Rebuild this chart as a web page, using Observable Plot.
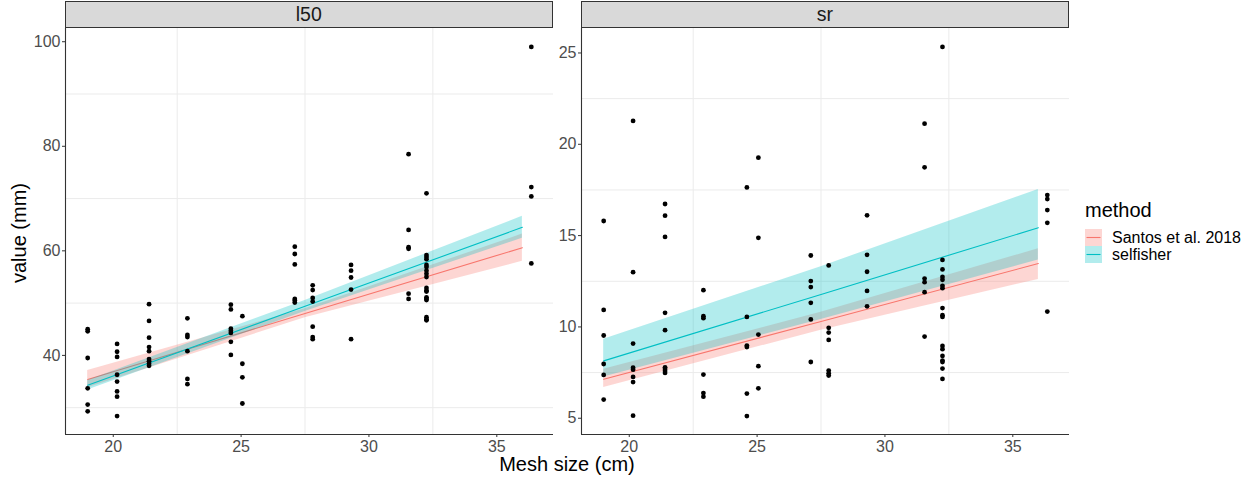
<!DOCTYPE html>
<html><head><meta charset="utf-8">
<script src="https://cdn.jsdelivr.net/npm/d3@7"></script>
<script src="https://cdn.jsdelivr.net/npm/@observablehq/plot@0.6"></script>
<style>
body{margin:0;background:#fff;font-family:"Liberation Sans",Arial,Helvetica,sans-serif;}
#root{position:relative;width:1255px;height:480px;overflow:hidden;background:#fff;}
.strip{position:absolute;top:1px;height:27px;box-sizing:border-box;background:#d9d9d9;border:1px solid #333;display:flex;align-items:center;justify-content:center;font-size:19.5px;color:#1a1a1a;}
.panel{position:absolute;top:28px;}
.title{position:absolute;font-size:20px;line-height:20px;color:#000;white-space:nowrap;}
.lab{position:absolute;font-size:16px;line-height:16px;color:#000;white-space:nowrap;}
</style></head>
<body><div id="root"></div>
<script>
// ---- data ----
const panels = ["l50", "sr"];
const methods = ["Santos et al. 2018", "selfisher"];
const methodColors = ["#F8766D", "#00BFC4"];
const meshSizes = [19.0, 20.15, 21.4, 22.9, 24.6, 25.05, 27.1, 27.8, 29.3, 31.55, 32.25, 36.35];
const l50Values = [
  [45.0, 44.6, 39.5, 33.7, 30.6, 29.3],
  [42.2, 40.7, 39.7, 36.3, 35.0, 33.1, 32.1, 28.4],
  [49.8, 46.6, 43.4, 41.6, 40.8, 39.3, 38.9, 38.4, 38.0],
  [47.1, 43.9, 43.5, 40.8, 35.5, 34.5],
  [49.7, 48.8, 45.1, 44.7, 44.3, 42.6, 40.1],
  [47.5, 38.4, 35.8, 30.8],
  [60.8, 59.4, 57.4, 50.8, 50.5, 50.1],
  [53.4, 52.5, 51.0, 50.3, 45.5, 43.5, 43.1],
  [57.3, 56.2, 54.9, 52.6, 43.1],
  [78.5, 64.0, 60.7, 60.4, 51.8, 50.8],
  [71.0, 59.2, 58.8, 58.4, 57.3, 56.9, 56.2, 55.6, 55.0, 52.9, 52.4, 52.2, 51.1, 50.8, 50.6, 47.3, 46.9, 46.7],
  [99.0, 72.2, 70.4, 57.6]
];
const srValues = [
  [15.8, 10.93, 9.53, 7.97, 7.37, 6.02],
  [21.28, 13.0, 9.09, 7.77, 7.66, 7.26, 6.98, 5.14],
  [16.73, 16.09, 14.93, 10.77, 9.82, 7.79, 7.70, 7.59, 7.48],
  [12.01, 10.59, 10.48, 7.39, 6.38, 6.18],
  [17.64, 10.55, 8.98, 8.90, 6.35, 5.12],
  [19.27, 14.88, 9.58, 7.85, 6.64],
  [13.91, 12.51, 12.18, 11.32, 10.41, 8.08],
  [13.37, 9.95, 9.69, 9.29, 7.61, 7.46, 7.34],
  [16.11, 13.95, 13.02, 11.97, 11.13],
  [21.13, 18.74, 12.65, 12.45, 11.90, 9.47],
  [25.33, 13.67, 13.15, 12.74, 12.58, 12.25, 12.12, 11.03, 10.64, 10.55, 8.96, 8.78, 8.41, 8.16, 8.08, 7.72, 7.15],
  [17.22, 17.0, 16.4, 15.70, 10.84]
];
// fitted lines and confidence bands, read at three mesh sizes
const fitX = [19, 27.5, 36];
const l50SantosFit = [35.4, 48.0, 60.6];
const l50SantosLo  = [33.8, 47.2, 58.0];
const l50SantosHi  = [37.1, 48.9, 63.2];
const l50SelfFit = [34.3, 49.4, 64.5];
const l50SelfLo  = [33.4, 48.4, 62.4];
const l50SelfHi  = [35.2, 50.5, 66.6];
const srSantosFit = [7.13, 10.3, 13.47];
const srSantosLo  = [6.68, 9.82, 12.6];
const srSantosHi  = [7.68, 10.8, 14.28];
const srSelfFit = [8.14, 11.78, 15.43];
const srSelfLo  = [7.26, 10.4, 13.66];
const srSelfHi  = [9.33, 13.3, 17.53];
// ticks
const xMajor = [20, 25, 30, 35];
const xMinor = [22.5, 27.5, 32.5];
const l50Major = [40, 60, 80, 100];
const l50Minor = [30, 50, 70, 90];
const srMajor = [5, 10, 15, 20, 25];
const srMinor = [7.5, 12.5, 17.5, 22.5];

// ---- build tables ----
function pts(values) {
  const out = [];
  values.forEach((arr, i) => arr.forEach(v => out.push({x: meshSizes[i], y: v})));
  return out;
}
function fitRows(fit, lo, hi) {
  return fitX.map((x, i) => ({x, fit: fit[i], lo: lo[i], hi: hi[i]}));
}
function expand(ext) { const d = (ext[1] - ext[0]) * 0.05; return [ext[0] - d, ext[1] + d]; }

const panelDefs = [
  {name: panels[0], points: pts(l50Values),
   fits: [fitRows(l50SantosFit, l50SantosLo, l50SantosHi), fitRows(l50SelfFit, l50SelfLo, l50SelfHi)],
   major: l50Major, minor: l50Minor, left: 0, width: 560, ml: 65, mr: 7},
  {name: panels[1], points: pts(srValues),
   fits: [fitRows(srSantosFit, srSantosLo, srSantosHi), fitRows(srSelfFit, srSelfLo, srSelfHi)],
   major: srMajor, minor: srMinor, left: 550, width: 520, ml: 31, mr: 1}
];

const allX = meshSizes.concat(fitX);
const xDomain = expand(d3.extent(allX));
const root = document.getElementById("root");
const font = '"Liberation Sans", Arial, Helvetica, sans-serif';

panelDefs.forEach(p => {
  const ys = p.points.map(d => d.y).concat(...p.fits.map(f => f.flatMap(r => [r.lo, r.hi])));
  const yDomain = expand(d3.extent(ys));
  const marks = [
    Plot.gridX({ticks: xMinor, stroke: "#ebebeb", strokeOpacity: 1, strokeWidth: 1}),
    Plot.gridY({ticks: p.minor, stroke: "#ebebeb", strokeOpacity: 1, strokeWidth: 1})
  ];
  p.fits.forEach((rows, i) => {
    marks.push(Plot.areaY(rows, {x: "x", y1: "lo", y2: "hi", fill: methodColors[i], fillOpacity: 0.3}));
    marks.push(Plot.line(rows, {x: "x", y: "fit", stroke: methodColors[i], strokeWidth: 1.1}));
  });
  marks.push(Plot.dot(p.points, {x: "x", y: "y", r: 2.4, fill: "#000", stroke: "none"}));
  marks.push(Plot.axisX({ticks: xMajor, tickSize: 3, tickPadding: 3, label: null, stroke: "#333", fill: "#4d4d4d", fontSize: 16}));
  marks.push(Plot.axisY({ticks: p.major, tickSize: 3, tickPadding: 2, label: null, stroke: "#333", fill: "#4d4d4d", fontSize: 16}));
  marks.push(Plot.ruleX([xDomain[0]], {stroke: "#333", strokeWidth: 1.1}));
  marks.push(Plot.ruleY([yDomain[0]], {stroke: "#333", strokeWidth: 1.1}));

  const chart = Plot.plot({
    width: p.width, height: 436,
    marginLeft: p.ml, marginRight: p.mr, marginTop: 0, marginBottom: 30,
    x: {domain: xDomain}, y: {domain: yDomain},
    style: {fontFamily: font, fontSize: "16px", background: "transparent", overflow: "visible"},
    marks
  });
  const wrap = document.createElement("div");
  wrap.className = "panel";
  wrap.style.left = p.left + "px";
  wrap.appendChild(chart);
  root.appendChild(wrap);

  const strip = document.createElement("div");
  strip.className = "strip";
  const sl = p.left + p.ml - 0.5;
  strip.style.left = sl + "px";
  strip.style.width = (p.width - p.ml - p.mr + 0.5) + "px";
  strip.textContent = p.name;
  root.appendChild(strip);
});

// axis titles
const xt = document.createElement("div");
xt.className = "title"; xt.textContent = "Mesh size (cm)";
xt.style.left = "567px"; xt.style.top = "454px"; xt.style.transform = "translateX(-50%)";
root.appendChild(xt);
const yt = document.createElement("div");
yt.className = "title"; yt.textContent = "value (mm)";
yt.style.left = "19px"; yt.style.top = "233px"; yt.style.transform = "translate(-50%,-50%) rotate(-90deg)";
root.appendChild(yt);

// legend
const lt = document.createElement("div");
lt.className = "title"; lt.textContent = "method";
lt.style.left = "1085px"; lt.style.top = "200px";
root.appendChild(lt);
methods.forEach((m, i) => {
  const top = 229 + i * 16.5;
  const key = document.createElementNS("http://www.w3.org/2000/svg", "svg");
  key.setAttribute("width", 17); key.setAttribute("height", 17);
  key.style.position = "absolute"; key.style.left = "1085px"; key.style.top = top + "px";
  key.innerHTML = `<rect x="0" y="0" width="17" height="17" fill="${methodColors[i]}" fill-opacity="0.3"/>` +
    `<line x1="1.5" x2="15.5" y1="8.5" y2="8.5" stroke="${methodColors[i]}" stroke-width="1.1"/>`;
  root.appendChild(key);
  const lab = document.createElement("div");
  lab.className = "lab"; lab.textContent = m;
  lab.style.left = "1112px"; lab.style.top = (top + 1) + "px";
  root.appendChild(lab);
});
</script>
</body></html>
